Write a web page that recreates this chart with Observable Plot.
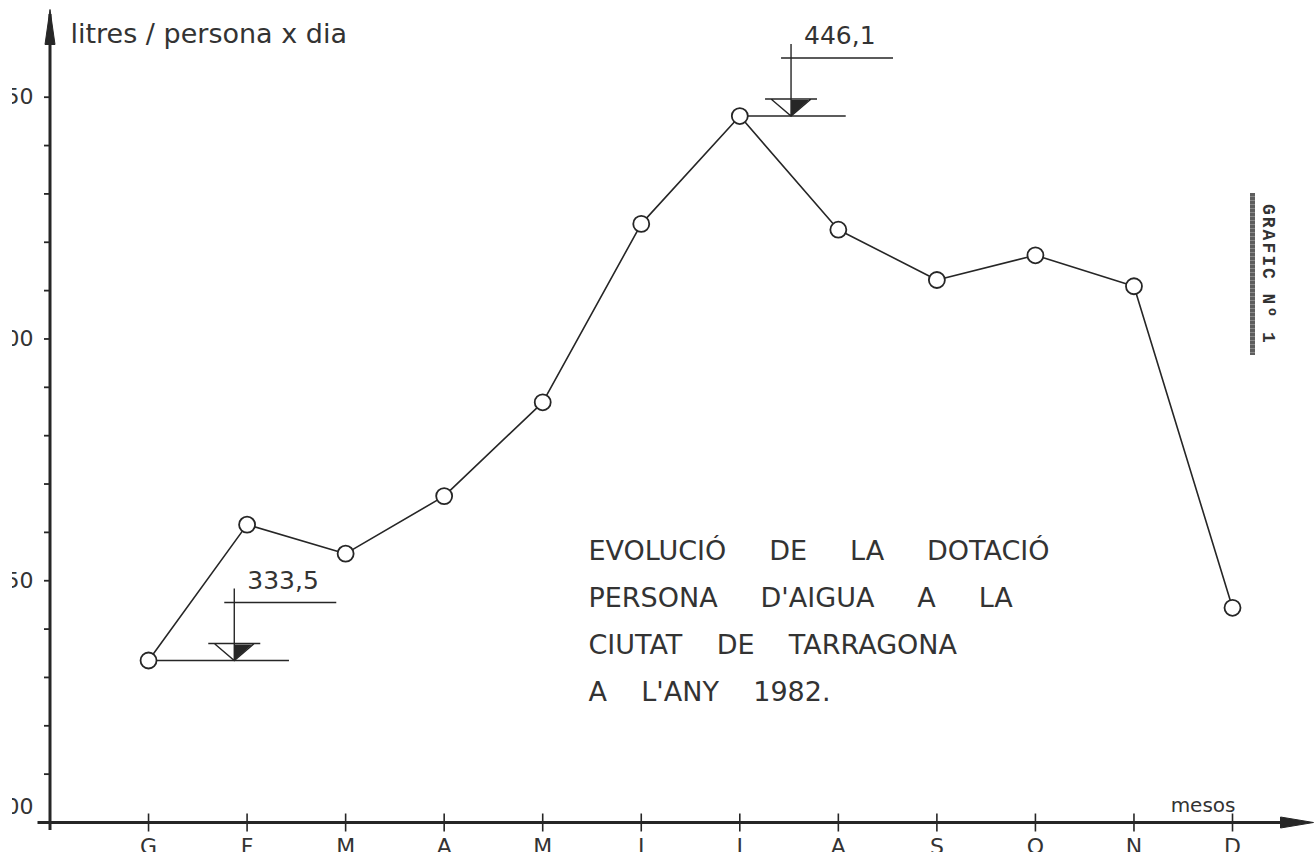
<!DOCTYPE html>
<html>
<head>
<meta charset="utf-8">
<script src="https://cdn.jsdelivr.net/npm/d3@7"></script>
<script src="https://cdn.jsdelivr.net/npm/@observablehq/plot@0.6"></script>
<style>
  html, body { margin: 0; padding: 0; background: #fff; overflow: hidden; }
  #wrap { position: relative; width: 1314px; height: 852px; }
  #wrap svg { display: block; clip-path: inset(0 0 0 12px); }
  #graficBar { position: absolute; left: 1250px; top: 193px; width: 5px; height: 162px;
    background: repeating-linear-gradient(180deg, #5e5e5e 0 3px, #8a8a8a 3px 4px); }
  #graficText { position: absolute; left: 1259px; top: 204px; writing-mode: vertical-rl;
    font-family: "Liberation Mono", "DejaVu Sans Mono", monospace; font-weight: bold;
    font-size: 18px; letter-spacing: 2px; line-height: 18px; color: #333; white-space: nowrap; }
</style>
</head>
<body>
<div id="wrap"></div>
<script>
// ---- data ----
const months = ["G", "F", "M", "A", "M", "J", "J", "A", "S", "O", "N", "D"];
const dotacio = [333.5, 361.6, 355.6, 367.5, 386.9, 423.8, 446.1, 422.6, 412.2, 417.3, 410.9, 344.4];
const yTickValues = [310, 320, 330, 340, 350, 360, 370, 380, 390, 400, 410, 420, 430, 440, 450];
const yLabelValues = [350, 400, 450];
const yBaseValue = 300;
const annotMonth = [0, 6];
const annotLabel = ["333,5", "446,1"];
const yAxisLabel = "litres / persona x dia";
const xAxisLabel = "mesos";
const titleLines = ["EVOLUCIÓ DE LA DOTACIÓ", "PERSONA D'AIGUA A LA", "CIUTAT DE TARRAGONA", "A L'ANY 1982."];
const graficLabel = "GRAFIC Nº 1";

// ---- layout (not data) ----
const annotOffset = [0.87, 0.52]; // horizontal offset of the level marker from its point, in month units
const titleGap = [5, 5, 4, 4];    // spaces between words, per title line
const ink = "#262626";
const textInk = "#333";

const rows = dotacio.map((v, i) => ({i, v, m: months[i]}));
const annots = annotMonth.map((m, k) => ({i: m, v: dotacio[m], label: annotLabel[k], off: annotOffset[k]}));
const monthIdx = months.map((_, i) => i);
const titleText = titleLines.map((s, k) => s.replaceAll(" ", "\u00A0".repeat(titleGap[k]))).join("\n");

// custom symbols (pixel geometry)
const vTick = {draw(c) { c.moveTo(0, -9); c.lineTo(0, 9); }};
const hTick = {draw(c) { c.moveTo(-6, 0); c.lineTo(0, 0); }};
const arrowUp = {draw(c) { c.moveTo(0, 9); c.lineTo(5, 44); c.lineTo(-5, 44); c.closePath(); }};
const arrowRight = {draw(c) { c.moveTo(-1, 0); c.lineTo(-34, -5.5); c.lineTo(-34, 5.5); c.closePath(); }};
const levelOutline = {draw(c) {
  c.moveTo(-26, -17); c.lineTo(26, -17);
  c.moveTo(-20, -17); c.lineTo(0, 0); c.lineTo(20, -17);
  c.moveTo(0, 0); c.lineTo(0, -72);
  c.moveTo(-10, -58); c.lineTo(102, -58);
}};
const levelFill = {draw(c) { c.moveTo(0, 0); c.lineTo(0, -16); c.lineTo(18, -16); c.closePath(); }};

const chart = Plot.plot({
  width: 1314,
  height: 852,
  marginLeft: 49.5,
  marginRight: 0,
  marginTop: 0,
  marginBottom: 30,
  x: {domain: [-1, 11.832], axis: null},
  y: {domain: [300, 470], axis: null},
  style: {fontFamily: "DejaVu Sans", background: "#fff", color: ink},
  marks: [
    // y axis: ticks and labels
    Plot.dot(yTickValues, {y: d => d, frameAnchor: "left", symbol: hTick, stroke: ink, strokeWidth: 1.8}),
    Plot.text(yLabelValues, {y: d => d, text: d => String(d), frameAnchor: "left", textAnchor: "end",
      lineAnchor: "middle", dx: -16.5, fontSize: 22, fill: textInk}),
    Plot.text([yBaseValue], {y: d => d, text: d => String(d), frameAnchor: "left", textAnchor: "end",
      lineAnchor: "middle", dx: -16.5, dy: -16, fontSize: 22, fill: textInk}),
    // x axis: ticks and labels
    Plot.dot(monthIdx, {x: d => d, frameAnchor: "bottom", symbol: vTick, stroke: ink, strokeWidth: 1.6}),
    Plot.text(monthIdx, {x: d => d, text: i => months[i], frameAnchor: "bottom", lineAnchor: "top",
      dy: 16, fontSize: 22, fill: textInk}),
    // axis lines and arrows
    Plot.ruleX([-1], {x: d => d, insetTop: 14, insetBottom: -8, stroke: ink, strokeWidth: 3}),
    Plot.ruleY([yBaseValue], {y: d => d, insetLeft: -12, insetRight: 20, stroke: ink, strokeWidth: 3}),
    Plot.dot([0], {frameAnchor: "top-left", symbol: arrowUp, fill: ink, stroke: ink, strokeWidth: 1}),
    Plot.dot([0], {frameAnchor: "bottom-right", symbol: arrowRight, fill: ink, stroke: ink, strokeWidth: 1}),
    Plot.text([yAxisLabel], {text: d => d, frameAnchor: "top-left", lineAnchor: "middle", dx: 20.5, dy: 34,
      textAnchor: "start", fontSize: 27, fill: textInk}),
    Plot.text([xAxisLabel], {text: d => d, frameAnchor: "bottom-right", lineAnchor: "bottom", dx: -79, dy: -11,
      textAnchor: "end", fontSize: 20, fill: textInk}),
    // title block
    Plot.text([titleText], {text: d => d, frameAnchor: "top-left", dx: 538.5, dy: 526.5, lineAnchor: "top",
      lineHeight: 1.741, textAnchor: "start", fontSize: 27, fill: textInk}),
    // level annotations
    Plot.ruleY(annots, {y: "v", x1: "i", x2: d => d.i + d.off + 0.56, stroke: ink, strokeWidth: 1.4}),
    Plot.dot(annots, {x: d => d.i + d.off, y: "v", symbol: levelOutline, fill: "none", stroke: ink, strokeWidth: 1.4}),
    Plot.dot(annots, {x: d => d.i + d.off, y: "v", symbol: levelFill, fill: ink, stroke: "none"}),
    Plot.text(annots, {x: d => d.i + d.off, y: "v", text: "label", lineAnchor: "middle", dx: 13, dy: -80,
      textAnchor: "start", fontSize: 25, fill: textInk}),
    // data
    Plot.line(rows, {x: "i", y: "v", stroke: ink, strokeWidth: 1.6}),
    Plot.dot(rows, {x: "i", y: "v", r: 8, fill: "#fff", stroke: ink, strokeWidth: 1.8})
  ]
});

const wrap = document.getElementById("wrap");
wrap.append(chart);
const bar = document.createElement("div");
bar.id = "graficBar";
wrap.append(bar);
const g = document.createElement("div");
g.id = "graficText";
g.textContent = graficLabel;
wrap.append(g);
</script>
</body>
</html>
